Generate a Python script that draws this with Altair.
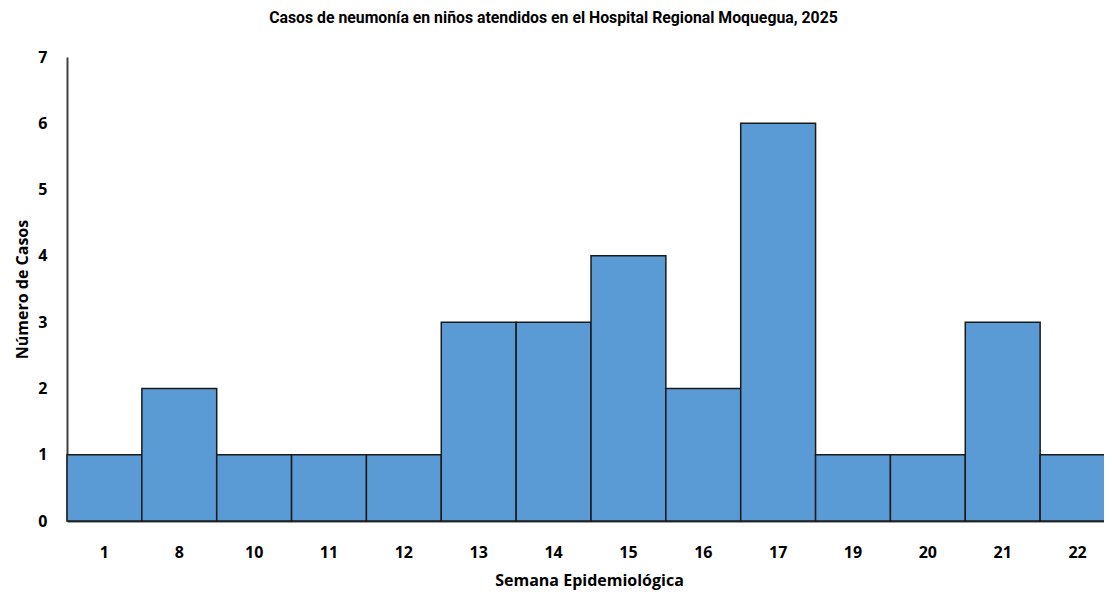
import altair as alt
import pandas as pd

semanas = ["1", "8", "10", "11", "12", "13", "14", "15", "16", "17", "19", "20", "21", "22"]
casos = [1, 2, 1, 1, 1, 3, 3, 4, 2, 6, 1, 1, 3, 1]

df = pd.DataFrame({"Semana": semanas, "Casos": casos})

FONT = "Open Sans"

chart = alt.Chart(df).mark_bar(
    color="#5B9BD5", stroke="#1a1a1a", strokeWidth=1.5
).encode(
    x=alt.X("Semana:N", sort=semanas,
            scale=alt.Scale(paddingInner=0, paddingOuter=0, range=[0, 1048]),
            axis=alt.Axis(title="Semana Epidemiológica", labelAngle=0, ticks=False,
                          labelPadding=23, titlePadding=12, domainColor="#404040",
                          domainWidth=2, labelFont=FONT, labelFontSize=16,
                          labelFontWeight="bold", labelColor="#000000",
                          titleFont=FONT, titleFontSize=16, titleFontWeight="bold",
                          titleColor="#000000", titleX=522)),
    y=alt.Y("Casos:Q", scale=alt.Scale(domain=[0, 7], nice=False),
            axis=alt.Axis(title="Número de Casos", values=[0, 1, 2, 3, 4, 5, 6, 7],
                          ticks=False, grid=False, labelPadding=20, titlePadding=7,
                          domainColor="#404040", domainWidth=2, labelFont=FONT,
                          labelFontSize=16, labelFontWeight="bold", labelColor="#000000",
                          titleFont=FONT, titleFontSize=16, titleFontWeight="bold",
                          titleColor="#000000"))
).properties(
    width=1037,
    height=464,
    title=alt.TitleParams(
        "Casos de neumonía en niños atendidos en el Hospital Regional Moquegua, 2025",
        font="Roboto", fontSize=15.8, fontWeight="bold", color="#000000",
        anchor="middle", dx=-32, offset=22
    ),
    autosize=alt.AutoSizeParams(type="none"),
    padding={"left": 59, "top": 49, "right": 0, "bottom": 70}
).configure_view(stroke=None)

chart.save("out.html", embed_options={"renderer": "svg", "actions": False})
